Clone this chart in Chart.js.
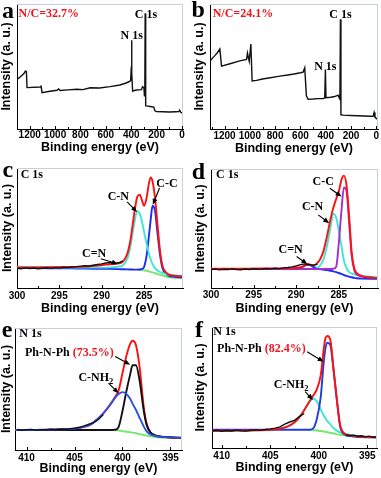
<!DOCTYPE html>
<html><head><meta charset="utf-8">
<script src="https://cdn.jsdelivr.net/npm/chart.js@4.4.1/dist/chart.umd.min.js"></script>
<style>
html,body{margin:0;padding:0;background:#fff;}
body{width:381px;height:478px;position:relative;overflow:hidden;}
canvas{position:absolute;}
</style></head><body>
<canvas id="ca" width="190" height="158" style="left:0;top:0;width:190px;height:158px"></canvas>
<canvas id="cb" width="191" height="158" style="left:190px;top:0;width:191px;height:158px"></canvas>
<canvas id="cc" width="190" height="158" style="left:0;top:158px;width:190px;height:158px"></canvas>
<canvas id="cd" width="191" height="158" style="left:190px;top:158px;width:191px;height:158px"></canvas>
<canvas id="ce" width="190" height="162" style="left:0;top:316px;width:190px;height:162px"></canvas>
<canvas id="cf" width="191" height="162" style="left:190px;top:316px;width:191px;height:162px"></canvas>
<script>
// ---------- Panel a: survey ----------
const aE = [1299,1273,1247,1234,1226,1221,1116,1111,1103,1040,985,972,960,900,829,780,724,650,567,489,440,423,405,399,397,395,389,360,319,311,300,296,293,290,286,282,250,222,214,201,150,100,50,25,18,10,-3];
const aI = [39.7,41.8,44.2,46.3,46.0,33.1,33.6,34.9,29.1,30.2,31.0,32.0,30.8,31.3,31.8,31.5,33.0,32.8,33.9,35.2,36.8,37.6,38.5,50.0,71.0,45.0,30.4,31.2,31.5,33.9,33.0,26.5,27.0,92.5,18.5,18.5,18.0,17.5,14.6,13.9,13.8,13.6,13.8,13.9,15.0,13.4,12.7];
// ---------- Panel b: survey ----------
const bE = [1316,1297,1277,1257,1237,1224,1150,1080,1026,1019,1005,992,982,947,900,850,763,700,650,600,579,566,553,540,500,460,421,408,403,398,395,360,330,316,303,296,288,284,280,276,263,200,150,100,50,26,18,11,0,-13];
const bI = [54.2,56.5,58.7,61.0,64.0,50.3,52.4,54.5,55.6,60.8,54.2,68.0,38.4,38.9,40.0,40.8,42.3,43.2,44.0,45.0,45.5,48.9,26.5,23.8,24.0,24.3,24.3,25.0,47.6,25.1,25.1,25.4,26.0,26.5,27.0,25.5,24.0,87.8,11.4,11.4,11.1,10.8,10.6,10.4,10.2,10.1,13.2,9.3,8.5,7.4];
// ---------- Panel c: C 1s ----------
const cE = [300,298,296,294,292,290,289,288,287.5,287,286.6,286.2,285.8,285.5,285.2,285.0,284.7,284.4,284.2,284.0,283.7,283.4,283.1,282.8,282.4,282.0,281.2,280.4];
const cRed = [17.2,17.2,17.3,17.5,17.8,19.0,19.8,20.5,22,28,40,60,76,77.8,72,68.5,75,88,92.2,89,75,52,30,18,13,11,10,9.7];
const cCyan = [17.5,17.3,17.2,17.0,17.0,17.0,17.2,17.8,19,24,35,52,63.9,62,54,47,37,28,23.5,20,16.5,14.5,13.2,12.5,11.6,11.0,10.5,10.2];
const cBlue = [16.7,16.6,16.5,16.4,16.2,16.0,15.9,15.7,15.6,15.5,15.4,15.3,15.3,15.4,16,17.5,27,45,58,68.5,64,45,27,16,11.5,10,9.2,8.9];
const cGreen = [null,null,null,null,null,null,null,null,null,null,null,null,15.3,15.2,15.0,14.8,14.3,13.8,13.4,13.0,12.3,11.6,11.0,10.4,9.6,9.0,8.5,8.3];
const cRawE = [300,299.5,299,298.5,298,297.5,297,296.5,296,295.5,295,294.5,294,293.5,293,292.5,292,291.5,291,290.5,290,289.5,289,288.5,288,287.5];
const cRawI = [16.5,16.0,16.8,16.2,16.6,16.0,16.5,16.9,16.4,17.0,16.6,17.3,17.0,17.5,17.8,18.2,18.6,18.3,19.0,19.6,20.1,20.8,21.2,20.5,21.0,22.5];
// ---------- Panel d: C 1s ----------
const dE = [300,298,296,294,292,290,289.6,289.2,288.9,288.6,288.3,288.0,287.6,287.2,286.8,286.4,286.0,285.66,285.3,285.0,284.7,284.4,284.1,283.8,283.5,283.2,282.9,282.2,281.3,280.4];
const dRed = [16.2,16.2,16.3,16.4,16.5,16.8,17.2,18.2,19.3,20.0,19.5,19.0,20.5,24,31,43,57,67,75,81,90.8,94.4,86.6,61.5,30.7,16.8,12.6,9.8,8.8,8.4];
const dPurple = [16,16,16,16,16,16,16,16,16,16,16,16,16,16,16,16,16,16.2,18,38,64,84.5,82,56,28,15.4,11.5,9.5,8.8,8.4];
const dCyan = [15.9,15.9,15.9,15.9,15.9,15.9,15.9,15.9,15.9,15.9,15.9,15.9,16.5,19,24,35,50,62.5,59,48,36,23,16.8,13.5,12.2,11.5,11.0,10.2,9.4,8.9];
const dBlue = [15.9,15.9,15.9,15.9,16.0,16.3,16.8,18.0,19.0,19.6,19.0,17.8,16.6,16.0,15.4,15.0,14.5,14.0,13.3,12.6,11.8,10.9,10.2,9.6,9.0,8.5,8.2,7.9,7.8,7.8];
const dRawE = [300,299.5,299,298.5,298,297.5,297,296.5,296,295.5,295,294.5,294,293.5,293,292.5,292,291.5,291,290.5,290,289.5,289,288.5,288,287.5];
const dRawI = [15.4,15.9,15.2,15.8,15.5,16.1,15.6,15.3,15.9,15.6,16.2,15.8,16.0,16.4,16.1,16.6,16.3,16.9,17.2,17.8,18.5,19.6,20.3,19.8,19.2,20.0];
// ---------- Panel e: N 1s ----------
const eE = [411.2,409,407,405,404,403.3,402.7,402,401.3,400.8,400.4,400,399.6,399.2,398.95,398.6,398.2,397.8,397.5,397.1,396.6,396,395,393.8];
const eRed = [16.4,16.5,16.8,17.5,19,21,24.7,30,37,43,49,63,77,87,89.6,86,67,36,22,14.5,12,11,10.3,9.8];
const ePhNPh = [16.4,16.4,16.4,16.4,16.4,16.4,16.4,16.4,16.4,16.6,19,32,48,62,69.5,69.5,56,33,21,14.5,12,11,10.4,10.1];
const eCNH2 = [16.4,16.5,16.8,17.5,19,21,24.7,30,37,42.5,46,47.4,46,42,38,33,26,19.5,15.5,12.8,11.5,10.8,10.3,10.1];
const eGreen = [null,null,null,null,null,null,null,null,null,16.4,16.0,15.5,15.0,14.5,14.2,13.7,13.0,12.3,11.8,11.2,10.7,10.3,9.9,9.6];
const eRawE = [411,410.5,410,409.5,409,408.5,408,407.5,407,406.5,406,405.5,405,404.5,404,403.5,403,402.5,402];
const eRawI = [16.8,16.2,16.6,16.9,16.3,16.7,16.4,17.0,16.6,17.2,17.0,17.4,17.9,18.6,19.8,21.2,22.4,25.0,29.0];
// ---------- Panel f: N 1s ----------
const fE = [411,409,407,405,404,403.3,402.8,402.2,401.6,401.0,400.6,400.2,399.8,399.5,399.3,399.1,398.8,398.5,398.1,397.8,397.4,396.7,396.0,395,394];
const fRed = [14.2,14.3,14.5,15.0,16.0,17.5,19.5,23.5,30,38,43,48.5,60,81,91,92.6,89,67,37.5,19,12.3,10.4,9.5,9.0,8.8];
const fPhNPh = [15.1,15.1,15.1,15.1,15.1,15.1,15.1,15.1,15.1,15.1,16,24,42,70,83,87,85,66,37,18,11.5,9.8,9.2,8.9,8.8];
const fCNH2 = [14.2,14.3,14.6,15.2,16.2,17.6,19.5,23.3,30,37.5,41.1,38.5,32,27,24.5,22,19.5,16.5,14.2,13,12,10.8,10,9.3,8.8];
const fGreen = [null,null,null,null,null,null,null,null,null,15.1,14.9,14.5,14.0,13.6,13.3,13.0,12.6,12.1,11.3,10.9,10.5,9.9,9.5,9.0,8.8];
const fRawE = [411,410.5,410,409.5,409,408.5,408,407.5,407,406.5,406,405.5,405,404.5,404,403.5,403,402.5,402,401.5,399,397.2,396.8,396.4,396,395.6,395.2,394.8,394.4,394];
const fRawI = [14.0,14.6,13.8,14.4,14.1,14.8,14.3,14.0,14.7,15.0,14.6,15.3,15.8,16.4,17.5,19.8,21.5,22.8,26.0,28.5,null,10.9,10.2,10.6,9.7,10.1,9.2,9.8,8.9,9.3];

// ---------- styling ----------
const RED = '#f2141c';
const SERIF = "'Liberation Serif','Times New Roman',serif";
const SANS = "'Liberation Sans',Arial,sans-serif";

function series(E, I, color, width, smooth) {
  return {
    data: E.map((e, i) => ({x: e, y: I[i]})),
    borderColor: color, borderWidth: width, pointRadius: 0, fill: false,
    tension: 0, cubicInterpolationMode: smooth ? 'monotone' : 'default', spanGaps: false
  };
}

function build(p) {
  const deco = {
    id: 'deco',
    afterDraw(chart) {
      const ctx = chart.ctx, ca = chart.chartArea, xs = chart.scales.x, ys = chart.scales.y;
      ctx.save();
      ctx.strokeStyle = '#c8d1da'; ctx.lineWidth = 1;
      ctx.beginPath();
      ctx.moveTo(ca.left, ca.top + 0.5); ctx.lineTo(ca.right, ca.top + 0.5);
      ctx.moveTo(ca.right - 0.5, ca.top); ctx.lineTo(ca.right - 0.5, ca.bottom);
      ctx.stroke();
      ctx.strokeStyle = '#000'; ctx.beginPath();
      const half = p.step / 2;
      for (let k = Math.ceil(p.xmin / half); k * half <= p.xmax; k++) {
        const v = k * half;
        const px = Math.round(xs.getPixelForValue(v)) + 0.5;
        const len = (k % 2 === 0) ? 3 : 2;
        ctx.moveTo(px, ca.bottom); ctx.lineTo(px, ca.bottom - len);
      }
      ctx.stroke();
      ctx.fillStyle = '#000'; ctx.textBaseline = 'alphabetic'; ctx.textAlign = 'left';
      ctx.font = 'bold 24px ' + SERIF;
      ctx.fillText(p.letter.t, p.letter.x, p.letter.y);
      (p.heads || []).forEach(h => {
        ctx.font = 'bold ' + h.size + 'px ' + SERIF;
        ctx.fillStyle = h.color || '#000';
        ctx.fillText(h.t, h.x, h.y);
      });
      ctx.textBaseline = 'middle';
      (p.notes || []).forEach(n => {
        const px = xs.getPixelForValue(n.x), py = ys.getPixelForValue(n.y);
        const parts = n.parts;
        let total = 0;
        parts.forEach(pt => { ctx.font = 'bold ' + (pt.sub ? 8.5 : 12) + 'px ' + SERIF; total += ctx.measureText(pt.t).width; });
        let cx = n.align === 'center' ? px - total / 2 : px;
        parts.forEach(pt => {
          ctx.font = 'bold ' + (pt.sub ? 8.5 : 12) + 'px ' + SERIF;
          ctx.fillStyle = pt.c || '#000';
          ctx.textAlign = 'left';
          ctx.fillText(pt.t, cx, py + (pt.sub ? 3.5 : 0));
          cx += ctx.measureText(pt.t).width;
        });
      });
      (p.arrows || []).forEach(a => {
        const x1 = xs.getPixelForValue(a[0]), y1 = ys.getPixelForValue(a[1]);
        const x2 = xs.getPixelForValue(a[2]), y2 = ys.getPixelForValue(a[3]);
        const ang = Math.atan2(y2 - y1, x2 - x1);
        ctx.strokeStyle = '#000'; ctx.fillStyle = '#000'; ctx.lineWidth = 1.1;
        ctx.beginPath(); ctx.moveTo(x1, y1);
        ctx.lineTo(x2 - 4 * Math.cos(ang), y2 - 4 * Math.sin(ang)); ctx.stroke();
        ctx.beginPath(); ctx.moveTo(x2, y2);
        ctx.lineTo(x2 - 6 * Math.cos(ang) + 2.5 * Math.sin(ang), y2 - 6 * Math.sin(ang) - 2.5 * Math.cos(ang));
        ctx.lineTo(x2 - 6 * Math.cos(ang) - 2.5 * Math.sin(ang), y2 - 6 * Math.sin(ang) + 2.5 * Math.cos(ang));
        ctx.closePath(); ctx.fill();
      });
      ctx.restore();
    }
  };
  new Chart(document.getElementById(p.canvas), {
    type: 'line',
    data: {datasets: p.datasets},
    options: {
      responsive: false, animation: false, events: [],
      layout: {padding: {left: 0, top: p.padT, right: p.padR, bottom: 0}},
      plugins: {legend: {display: false}, tooltip: {enabled: false}},
      scales: {
        x: {
          type: 'linear', reverse: true, min: p.xmin, max: p.xmax,
          grid: {display: false, drawTicks: false},
          border: {display: true, color: '#000', width: 1},
          ticks: {stepSize: p.step, includeBounds: false, autoSkip: false, maxRotation: 0, padding: p.tickPad,
                  color: '#000', font: {family: SANS, weight: 'bold', size: 10}, callback: v => String(v)},
          title: {display: true, text: 'Binding energy (eV)', color: '#000',
                  font: {family: SANS, weight: 'bold', size: 12.5, lineHeight: 1}, padding: {top: 0, bottom: p.xTitlePad}},
          afterFit(s) { s.height = p.xH; s.paddingLeft = 0; s.paddingRight = 0; }
        },
        y: {
          type: 'linear', min: 0, max: 100,
          grid: {display: false, drawTicks: false},
          border: {display: true, color: '#000', width: 1},
          ticks: {display: false},
          title: {display: true, text: 'Intensity (a. u.)', color: '#000',
                  font: {family: SANS, weight: 'bold', size: 12.5, lineHeight: 1}, padding: {top: p.yTitlePad, bottom: 0}},
          afterFit(s) { s.width = p.yW; s.paddingTop = 0; s.paddingBottom = 0; }
        }
      }
    },
    plugins: [deco]
  });
}

const T = t => [{t: t}];

build({canvas: 'ca', yW: 17, padR: 7, padT: 4, xH: 29, xmin: -8, xmax: 1300, step: 200, tickPad: 0, xTitlePad: 3.75, yTitlePad: 0,
  letter: {t: 'a', x: 2, y: 18},
  heads: [{t: 'N/C=32.7%', x: 18.5, y: 16.7, size: 12, color: RED}],
  notes: [{parts: T('C 1s'), x: 283.5, y: 91.2, align: 'center'}, {parts: T('N 1s'), x: 396, y: 74.4, align: 'center'}],
  datasets: [series(aE, aI, '#111', 1.4, false)]});

build({canvas: 'cb', yW: 20, padR: 3, padT: 4, xH: 29, xmin: -13, xmax: 1315, step: 200, tickPad: 1.4, xTitlePad: 3.5, yTitlePad: 3.75,
  letter: {t: 'b', x: 1.5, y: 17.3},
  heads: [{t: 'N/C=24.1%', x: 22.7, y: 16.7, size: 12, color: RED}],
  notes: [{parts: T('C 1s'), x: 284, y: 91.5, align: 'center'}, {parts: T('N 1s'), x: 403, y: 49.6, align: 'center'}],
  datasets: [series(bE, bI, '#111', 1.4, false)]});

build({canvas: 'cc', yW: 17, padR: 7, padT: 10, xH: 28, xmin: 280.4, xmax: 300, step: 5, tickPad: 1.9, xTitlePad: 0.75, yTitlePad: 1.25,
  letter: {t: 'c', x: 2.5, y: 19},
  heads: [{t: 'C 1s', x: 20.7, y: 20.3, size: 12}],
  notes: [{parts: T('C-N'), x: 288.04, y: 75.6, align: 'center'}, {parts: T('C-C'), x: 282.3, y: 86.9, align: 'center'},
          {parts: T('C=N'), x: 290.9, y: 28.6, align: 'center'}],
  arrows: [[287.0, 71.7, 285.82, 63.3], [283.17, 83.3, 283.96, 69.4], [290.1, 24.4, 288.1, 20]],
  datasets: [series(cRawE, cRawI, '#111', 1.4, false), series(cE, cRed, '#ff1010', 1.9, true),
             series(cE, cCyan, '#3fe6d2', 1.9, true), series(cE, cBlue, '#1a2df5', 1.9, true),
             series(cE, cGreen, '#74e86a', 1.9, true)]});

build({canvas: 'cd', yW: 21, padR: 3, padT: 11, xH: 28, xmin: 280.4, xmax: 300, step: 5, tickPad: 1.6, xTitlePad: 0.75, yTitlePad: 4.25,
  letter: {t: 'd', x: 1.7, y: 20.5},
  heads: [{t: 'C 1s', x: 26, y: 20, size: 12}],
  notes: [{parts: T('C-C'), x: 286.83, y: 89.4, align: 'center'}, {parts: T('C-N'), x: 288.08, y: 68.4, align: 'center'},
          {parts: T('C=N'), x: 290.65, y: 32.1, align: 'center'}],
  arrows: [[286.05, 83.8, 284.68, 76.8], [287.41, 61.5, 286.13, 54.5], [289.95, 26.5, 288.7, 20.1]],
  datasets: [series(dRawE, dRawI, '#111', 1.4, false), series(dE, dRed, '#ff1010', 1.9, true),
             series(dE, dPurple, '#a030d0', 1.9, true), series(dE, dCyan, '#3fe6d2', 1.9, true),
             series(dE, dBlue, '#1a2df5', 1.9, true)]});

build({canvas: 'ce', yW: 15, padR: 8, padT: 12, xH: 28, xmin: 393.8, xmax: 411.2, step: 5, tickPad: 1.8, xTitlePad: 2.75, yTitlePad: 0.75,
  letter: {t: 'e', x: 1.7, y: 20.7},
  heads: [{t: 'N 1s', x: 19.3, y: 20.5, size: 12}],
  notes: [{parts: [{t: 'Ph-N-Ph '}, {t: '(73.5%)', c: RED}], x: 410.16, y: 79.5, align: 'left'},
          {parts: [{t: 'C-NH'}, {t: '2', sub: true}], x: 404.59, y: 58.9, align: 'left'}],
  arrows: [[400.76, 76.7, 399.2, 69.9], [401.46, 54.8, 400.41, 46.6]],
  datasets: [series(eRawE, eRawI, '#111', 1.4, false), series(eE, eCNH2, '#2a4ee6', 1.9, true),
             series(eE, ePhNPh, '#111', 1.9, true), series(eE, eRed, '#ff1010', 1.9, true),
             series(eE, eGreen, '#74e86a', 1.9, true)]});

build({canvas: 'cf', yW: 22, padR: 4, padT: 11, xH: 30, xmin: 394, xmax: 411, step: 5, tickPad: 1.9, xTitlePad: 4.25, yTitlePad: 4.75,
  letter: {t: 'f', x: 5, y: 20.7},
  heads: [{t: 'N 1s', x: 23.3, y: 19, size: 12}],
  notes: [{parts: [{t: 'Ph-N-Ph '}, {t: '(82.4%)', c: RED}], x: 410.48, y: 82.2, align: 'left'},
          {parts: [{t: 'C-NH'}, {t: '2', sub: true}], x: 404.65, y: 52.1, align: 'left'}],
  arrows: [[401.2, 79.5, 399.5, 71.2], [401.4, 46.6, 400.6, 39.7]],
  datasets: [series(fRawE, fRawI, '#111', 1.4, false), series(fE, fRed, '#ff1010', 1.9, true),
             series(fE, fPhNPh, '#1f3cdc', 1.9, true), series(fE, fCNH2, '#3fe6d2', 1.9, true),
             series(fE, fGreen, '#74e86a', 1.9, true)]});
</script>
</body></html>
